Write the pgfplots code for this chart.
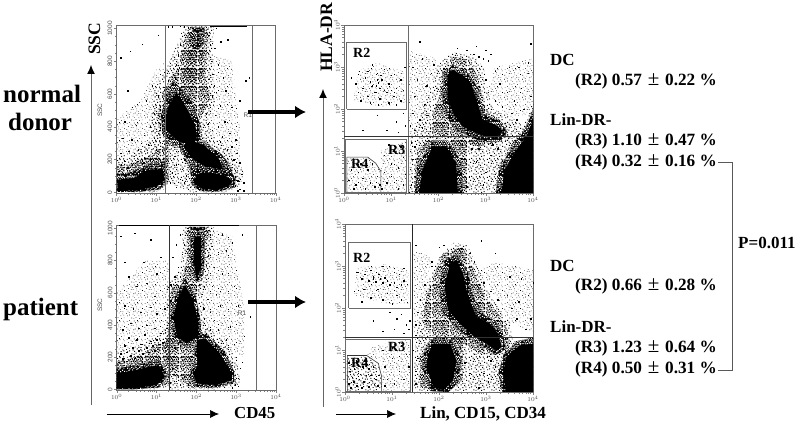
\documentclass[border=0pt]{standalone}
\usepackage{pgfplots}
\pgfplotsset{compat=1.18}
\usepackage{fontspec}
\setmainfont{Liberation Serif}
\newfontfamily\tickfont{Liberation Sans}
\usetikzlibrary{arrows.meta,patterns}
\definecolor{frame}{gray}{0.42}
\definecolor{tick}{gray}{0.30}
\def\logminor{0.30,0.48,0.60,0.70,0.78,0.85,0.90,0.95,1.30,1.48,1.60,1.70,1.78,1.85,1.90,1.95,2.30,2.48,2.60,2.70,2.78,2.85,2.90,2.95,3.30,3.48,3.60,3.70,3.78,3.85,3.90,3.95}
% stipple tiles
\def\dd#1 #2;{\pgfpathrectangle{\pgfqpoint{#1pt}{#2pt}}{\pgfqpoint{\sz}{\sz}}}
\def\listA{\dd 1.3 2.9;\dd 5.6 0.7;\dd 8.4 3.2;\dd 13.8 0.2;\dd 16.1 3.7;\dd 3.1 6.6;\dd 6.9 4.8;\dd 11.2 5.9;\dd 15.2 7.3;\dd 0.4 9.8;\dd 4.7 8.9;\dd 9.3 8.1;\dd 12.6 9.7;\dd 16.9 10.6;\dd 2.2 12.8;\dd 7.1 11.7;\dd 10.8 12.4;\dd 14.4 12.1;\dd 0.9 15.9;\dd 4.9 15.2;\dd 8.3 16.4;\dd 12.2 15.6;\dd 15.7 16.2;\dd 3.3 3.9;\dd 10.1 1.4;\dd 6.2 13.9;\dd 13.1 3.1;\dd 1.8 7.9;\dd 16.6 14.4;\dd 11.6 16.9;\dd 7.7 7.2;\dd 14.9 5.1;\dd 5.1 11.6;\dd 9.6 14.6;\dd 3.4 16.9;\dd 0.2 5.6;\dd 12.9 7.6;\dd 16.4 0.9;\dd 7.9 0.1;\dd 11.0 10.2;\pgfusepath{fill}}
\def\listB{\dd 0.3 0.8;\dd 2.6 1.9;\dd 4.4 0.2;\dd 6.3 2.4;\dd 8.9 1.1;\dd 10.7 2.8;\dd 12.5 0.6;\dd 14.6 2.2;\dd 16.7 1.0;\dd 1.1 4.2;\dd 3.5 3.6;\dd 5.4 5.1;\dd 7.6 4.3;\dd 9.8 5.0;\dd 11.9 3.9;\dd 13.7 5.3;\dd 15.9 4.4;\dd 0.2 6.7;\dd 2.4 6.1;\dd 4.1 7.5;\dd 6.6 7.0;\dd 8.7 6.9;\dd 10.5 7.6;\dd 12.8 7.2;\dd 15.0 6.8;\dd 16.6 7.1;\dd 1.4 8.9;\dd 3.2 9.6;\dd 5.7 9.0;\dd 7.9 9.7;\dd 9.6 8.9;\dd 11.8 9.4;\dd 13.9 9.1;\dd 16.1 9.8;\dd 0.5 11.2;\dd 2.7 11.8;\dd 4.8 11.1;\dd 6.9 11.9;\dd 9.0 11.3;\dd 10.9 11.7;\dd 13.1 11.4;\dd 15.2 11.9;\dd 16.7 11.2;\dd 1.6 13.7;\dd 3.9 13.3;\dd 6.0 13.9;\dd 8.1 13.2;\dd 10.2 13.8;\dd 12.2 13.3;\dd 14.4 13.9;\dd 16.5 13.4;\dd 0.3 15.4;\dd 2.5 15.9;\dd 4.7 15.3;\dd 7.0 15.8;\dd 9.1 15.2;\dd 11.3 15.9;\dd 13.4 15.5;\dd 15.6 15.8;\dd 16.7 15.1;\dd 1.3 16.7;\dd 3.6 16.6;\dd 5.9 16.8;\dd 8.3 16.7;\dd 10.4 16.6;\dd 12.5 16.8;\dd 14.7 16.7;\pgfusepath{fill}}
\def\sz{1.0pt}\pgfdeclarepatternformonly{spA}{\pgfqpoint{0pt}{0pt}}{\pgfqpoint{18pt}{18pt}}{\pgfqpoint{18pt}{18pt}}{\listA}
\def\sz{0.65pt}\pgfdeclarepatternformonly{spF}{\pgfqpoint{0pt}{0pt}}{\pgfqpoint{18pt}{18pt}}{\pgfqpoint{18pt}{18pt}}{\listA}
\def\sz{1.2pt}\pgfdeclarepatternformonly{spB}{\pgfqpoint{0pt}{0pt}}{\pgfqpoint{18pt}{18pt}}{\pgfqpoint{18pt}{18pt}}{\listB}
\pgfplotsset{
 flow/.style={scale only axis,clip=true,axis line style={frame,line width=0.9pt},
  xmin=0,xmax=4,xtick={0,1,2,3,4},xticklabels={$10^0$,$10^1$,$10^2$,$10^3$,$10^4$},
  minor xtick=\logminor,
  tick pos=lower,tick align=outside,major tick length=3pt,minor tick length=1.6pt,
  tick style={tick,line width=0.4pt},
  x tick label style={font=\tickfont\fontsize{6.5}{7}\selectfont,text=tick,inner sep=1pt},
  y tick label style={font=\tickfont\fontsize{6.5}{7}\selectfont,text=tick,rotate=90,anchor=south,inner sep=1pt}},
 ssc/.style={flow,ymin=-4,ymax=1021,ytick={0,200,400,600,800,1000},minor y tick num=3,
  /pgf/number format/assume math mode=true,/pgf/number format/1000 sep={}},
 hla/.style={flow,ymin=0,ymax=4,ytick={0,1,2,3,4},yticklabels={$10^0$,$10^1$,$10^2$,$10^3$,$10^4$},minor ytick=\logminor},
 dots/.style={only marks,mark=square*,mark size=0.26pt,mark options={black,draw=none,fill=black}},
 vs/.style={draw=none,pattern=spF,pattern color=black},
 sp/.style={draw=none,pattern=spA,pattern color=black},
 md/.style={draw=none,pattern=spB,pattern color=black},
 hv/.style={draw=none,preaction={fill=black},pattern=spB,pattern color=white},
 bk/.style={draw=none,fill=black},
 gate/.style={draw=frame,line width=0.9pt,no marks},
}
\newcommand{\ar}[2]{\addplot[#1] coordinates {#2} -- cycle;}
\newcommand{\lab}[3]{\node[anchor=base west,inner sep=0pt,font=\bfseries\fontsize{17}{18}\selectfont] at (#1pt,#2pt) {#3};}
\newcommand{\rlab}[3]{\node[anchor=base west,inner sep=0pt,font=\bfseries\fontsize{14}{15}\selectfont] at (#1pt,#2pt) {#3};}
\newcommand{\stat}[5]{\node[anchor=base west,inner sep=0pt,font=\fontsize{17.2}{18}\selectfont] at (#1pt,#2pt) {\textbf{#3 #4}\hspace{1.5pt} {\fontsize{21}{18}\selectfont ±}\hspace{1.5pt} \textbf{#5 \%}};}
\begin{document}
\begin{tikzpicture}[x=1pt,y=1pt]
\path[use as bounding box] (0,0) rectangle (800,427);

% ---------- normal donor, SSC / CD45
\begin{axis}[ssc,at={(116.5pt,234pt)},anchor=south west,width=159.2pt,height=168pt]
\ar{vs}{(0,200)(0,450)(0.6,560)(1.0,750)(1.24,800)(1.24,200)}
\ar{vs}{(2.3,300)(2.35,850)(2.9,800)(3.1,400)(3.1,150)}
\ar{sp}{(1.7,1018)(2.45,1018)(2.42,850)(2.4,700)(2.5,560)(2.3,450)(2.35,360)(2.85,250)(3.2,130)(3.1,30)(2.7,0)(1.9,0)(1.5,40)(1.3,60)(1.1,250)(0.85,380)(0.95,620)(1.3,780)(1.55,920)}
\ar{sp}{(0,220)(0.4,240)(0.9,320)(1.3,420)(1.3,30)(1,0)(0,0)}
\ar{md}{(1.85,1011)(2.31,1011)(2.27,849)(2.23,706)(2.35,564)(2.10,443)(2.18,321)(2.69,219)(3.06,118)(2.94,47)(2.52,6)(2.02,16)(1.81,138)(1.60,260)(1.22,300)(1.01,443)(1.14,605)(1.51,747)(1.68,909)}
\ar{md}{(0.01,158)(0.43,179)(0.93,240)(1.31,300)(1.31,60)(1.01,6)(0.01,6)}
\ar{md}{(1.88,1000)(2.22,1000)(2.17,850)(2.15,720)(2.05,640)(1.6,640)(1.7,740)(1.8,880)}
\ar{hv}{(1.9,1005)(2.22,1005)(2.18,900)(2.05,870)(1.9,880)}
\ar{hv}{(1.42,680)(1.85,580)(2.08,430)(2.1,330)(2.3,290)(2.65,230)(2.85,140)(3.0,80)(2.95,30)(2.55,4)(2.1,8)(1.88,50)(1.85,170)(1.6,270)(1.4,300)(1.15,370)(1.12,470)(1.22,560)}
\ar{hv}{(0,110)(0.4,125)(0.8,175)(1.2,190)(1.3,90)(1.1,20)(0.6,4)(0,2)}
\ar{bk}{(1.50,610)(1.75,520)(1.98,410)(2.02,340)(1.95,290)(1.55,310)(1.25,380)(1.2,430)(1.3,520)}
\ar{bk}{(1.81,321)(2.18,290)(2.56,209)(2.69,138)(2.23,158)(1.93,199)(1.68,280)}
\ar{bk}{(1.93,77)(2.10,118)(2.44,118)(2.77,97)(2.92,67)(2.81,37)(2.52,16)(2.18,20)(1.97,47)}
\ar{bk}{(0.01,77)(0.43,87)(0.80,138)(1.14,142)(1.22,77)(1.01,37)(0.59,16)(0.04,6)}
\addplot[dots] coordinates {(0.1,820)(0.35,860)(0.28,620)(0.4,520)(0.65,905)(0.9,650)(0.75,560)(0.2,430)(0.5,410)(0.15,330)(0.38,320)(0.62,300)(0.85,400)(0.95,480)(1.05,590)(1.1,720)(1.0,520)(1.12,470)(1.08,380)(0.7,350)(0.55,260)(0.3,250)(0.1,240)(0.8,290)(0.95,330)(0.45,220)(0.2,190)(0.7,210)(1.0,260)(1.15,300)(0.05,130)(0.12,170)(0.28,150)(0.4,170)(0.52,190)(0.68,180)(0.85,200)
(1.2,640)(1.3,680)(1.42,720)(1.5,780)(1.55,840)(1.6,900)(1.7,960)(1.25,600)(1.35,640)(1.48,700)(1.58,760)(1.65,810)(1.72,880)(1.8,1000)(1.78,760)(2.32,960)(2.35,900)(2.3,850)(2.38,800)(2.42,720)(2.45,650)(2.5,610)(2.32,690)(2.28,640)(2.4,590)(2.35,520)(2.25,480)(2.48,470)(2.6,530)(2.72,430)(2.55,400)(2.4,380)(2.65,340)(2.85,360)(2.9,280)(3.02,240)(3.1,180)(2.95,200)(3.0,320)(3.15,110)(3.2,60)(2.98,40)(3.05,70)(2.78,260)(2.6,310)(2.3,420)(2.2,590)(2.47,880)(2.55,780)(2.68,700)(2.75,620)(2.9,520)(3.1,560)(3.25,680)(3.33,700)(2.62,920)(2.5,1000)(2.8,930)(1.05,960)(1.5,30)(1.6,80)(1.4,120)(1.7,60)(1.5,170)(1.65,140)(1.45,220)(1.75,100)(1.85,30)(1.35,60)(1.55,250)(1.72,200)(3.1,20)(3.2,10)(3.05,10)(2.4,6)(1.3,1010)(1.4,1012)(1.6,1014)(1.7,1012)};
\addplot[draw=black,line width=1.5pt,no marks] coordinates {(2.35,1015)(3.27,1015)};
\addplot[gate] coordinates {(1.24,-4)(1.24,1021)};
\addplot[gate] coordinates {(3.41,-4)(3.41,1021)};
\addplot[gate] coordinates {(1.24,1016)(3.41,1016)};
\node[font=\tickfont\fontsize{6.5}{7}\selectfont,text=tick] at (axis cs:3.3,470) {R1};
\end{axis}
\node[rotate=90,font=\tickfont\fontsize{6.5}{7}\selectfont,text=tick] at (100,317) {SSC};

% ---------- normal donor, HLA-DR / Lin
\begin{axis}[hla,at={(344pt,234pt)},anchor=south west,width=189pt,height=168pt]
\ar{vs}{(0.2,2.2)(0.3,2.9)(0.7,3.1)(1.25,2.9)(1.3,2.15)(0.8,2.05)}
\ar{vs}{(0.05,0.03)(0.05,0.85)(0.5,0.85)(0.78,0.55)(0.78,1.0)(1.33,1.25)(1.33,0.03)}
\ar{vs}{(1.36,1.35)(1.36,3.4)(1.95,3.2)(1.8,2.4)(1.5,1.5)}
\ar{vs}{(3.0,2.4)(3.2,3.0)(4,3.2)(4,1.9)(3.5,1.8)}
\ar{sp}{(1.4,1.3)(1.6,1.8)(1.8,2.4)(1.95,3.0)(2.25,3.35)(2.7,3.3)(2.95,3.0)(3.05,2.4)(3.15,2.0)(3.55,1.8)(3.8,1.6)(4,2.2)(4,0)(1.38,0)}
\ar{md}{(2.02,2.30)(2.09,2.93)(2.30,3.25)(2.65,3.17)(2.83,2.77)(2.94,2.22)(3.08,1.90)(3.43,1.66)(3.50,1.27)(2.87,1.11)(2.30,1.27)(1.81,1.43)(1.88,1.90)}
\ar{md}{(1.45,0)(1.55,1.0)(1.85,1.35)(2.6,1.2)(2.6,0)}
\ar{md}{(3.2,0)(3.3,0.7)(3.6,1.25)(3.85,1.6)(4,2.0)(4,0)}
\ar{hv}{(2.1,2.5)(2.12,2.85)(2.3,3.05)(2.6,2.88)(2.78,2.6)(2.88,2.2)(3.0,1.85)(3.3,1.72)(3.45,1.45)(3.3,1.22)(2.85,1.25)(2.4,1.48)(2.2,1.75)(2.08,2.2)}
\ar{hv}{(1.85,1.25)(2.2,1.25)(2.48,0.75)(2.52,0)(1.5,0)(1.55,0.6)}
\ar{hv}{(3.22,0)(3.28,0.55)(3.55,1.1)(3.8,1.45)(4,1.95)(4,0)}
\ar{bk}{(2.19,2.81)(2.30,2.93)(2.51,2.81)(2.69,2.61)(2.80,2.22)(2.94,1.74)(3.22,1.62)(3.36,1.47)(3.22,1.31)(2.87,1.39)(2.51,1.58)(2.34,1.86)(2.19,2.22)(2.19,2.53)}
\ar{bk}{(1.88,1.11)(2.16,1.11)(2.37,0.71)(2.41,0.0)(1.59,0.0)(1.66,0.55)}
\ar{bk}{(3.33,0)(3.40,0.55)(3.65,1.03)(3.86,1.35)(4,1.74)(4,0)}
\addplot[dots] coordinates {(0.32,2.9)(0.45,2.75)(0.6,3.05)(0.7,2.85)(0.85,2.95)(1.0,2.8)(1.2,2.7)(0.25,2.6)(0.4,2.5)(0.55,2.65)(0.68,2.55)(0.8,2.7)(0.95,2.6)(1.1,2.5)(1.25,2.45)(0.3,2.4)(0.5,2.3)(0.65,2.4)(0.75,2.25)(0.9,2.4)(1.05,2.3)(1.2,2.2)(0.35,2.2)(0.55,2.15)(0.72,2.1)(0.95,2.15)(1.1,2.1)(0.6,2.55)(0.7,2.7)(0.72,2.62)(0.75,2.5)(0.78,2.8)(0.85,2.45)(1.0,2.45)(0.15,2.75)(1.28,3.0)(0.5,2.9)
(0.7,1.85)(1.1,1.7)(1.25,1.9)(1.3,1.6)(0.4,1.5)(0.9,1.5)(1.15,1.45)
(0.1,0.3)(0.25,0.2)(0.4,0.35)(0.55,0.25)(0.7,0.4)(0.3,0.5)(0.5,0.55)(0.15,0.55)(0.65,0.15)(0.2,0.1)(0.45,0.1)(0.35,0.7)(0.6,0.7)(0.75,0.2)
(0.85,0.5)(1.0,0.7)(1.15,0.6)(1.25,0.85)(0.9,0.25)(1.1,0.3)(1.25,0.2)(1.0,0.4)(0.85,0.9)(1.2,1.1)(1.05,1.0)(0.95,1.15)(1.3,0.45)(0.8,0.1)(1.15,0.1)
(1.45,3.0)(1.55,2.7)(1.65,3.2)(1.75,2.55)(1.85,2.85)(1.5,2.3)(1.7,2.1)(1.95,2.5)(1.9,3.05)(1.45,1.9)(1.6,1.75)(1.75,1.85)(1.5,1.5)(1.65,1.55)(1.4,1.6)(1.6,3.6)(2.4,3.45)(2.6,3.4)(2.8,3.5)(3.0,3.4)(3.1,3.3)(3.05,3.15)(2.95,3.2)(2.85,3.25)(2.75,3.3)(3.2,2.9)(3.3,2.6)(3.45,2.4)(3.6,2.2)(3.75,2.5)(3.9,2.85)(3.95,2.3)(3.8,2.0)(3.55,1.9)(3.65,1.75)(3.35,2.05)(3.2,2.2)(3.05,2.4)(3.0,2.7)(3.9,3.1)(3.95,3.55)(3.7,3.0)(3.5,3.0)
(1.42,1.2)(1.45,0.8)(1.5,0.4)(1.42,0.2)(1.5,1.1)(1.55,0.6)(2.5,1.15)(2.55,0.8)(2.65,0.4)(2.7,1.05)(2.8,0.75)(2.95,0.2)(3.0,0.5)(3.1,0.9)(3.2,0.45)(2.6,0.15)(2.85,1.05)(3.15,1.15)(3.25,1.05)};
\addplot[gate] coordinates {(1.36,0)(1.36,4)};
\addplot[draw=black!80,line width=0.7pt,no marks] coordinates {(0,1.35)(4,1.35)};
\addplot[gate] coordinates {(0.06,2.0)(1.33,2.0)(1.33,3.58)(0.06,3.58)(0.06,2.0)};
\addplot[gate] coordinates {(0.03,0.02)(1.33,0.02)(1.33,1.28)(0.03,1.28)(0.03,0.02)};
\addplot[draw=black!80,line width=0.6pt,no marks] coordinates {(0.06,0.02)(0.06,0.855)(0.5,0.855)(0.67,0.71)(0.78,0.515)(0.78,0.02)};
\end{axis}
\rlab{353}{369}{R2}
\rlab{388}{272}{R3}
\rlab{351}{258}{R4}

% ---------- patient, SSC / CD45
\begin{axis}[ssc,at={(116.7pt,37pt)},anchor=south west,width=159.3pt,height=165pt]
\ar{vs}{(0,240)(0,600)(0.7,800)(1.32,800)(1.32,240)}
\ar{vs}{(2.2,320)(2.3,1000)(2.9,950)(3.2,500)(3.2,200)}
\ar{sp}{(1.65,1018)(2.45,1018)(2.38,880)(2.3,700)(2.2,580)(2.2,420)(2.35,370)(2.75,290)(3.05,170)(3.1,30)(2.6,0)(1.34,0)(1.3,80)(1.15,300)(1.25,420)(1.25,640)(1.55,730)(1.65,850)}
\ar{sp}{(0,240)(0.5,260)(1.0,330)(1.34,400)(1.34,20)(1.0,0)(0,0)}
\ar{md}{(1.76,1010)(2.34,1010)(2.25,907)(2.18,700)(2.05,600)(2.05,400)(2.22,330)(2.59,250)(2.95,150)(3.0,40)(2.51,6)(1.91,6)(1.6,60)(1.34,100)(1.21,265)(1.30,390)(1.38,627)(1.65,690)(1.76,800)}
\ar{md}{(0,170)(0.5,203)(1.0,270)(1.34,300)(1.34,30)(1.0,6)(0,6)}
\ar{hv}{(1.85,1010)(2.22,1010)(2.2,850)(2.18,720)(2.0,660)(1.88,760)(1.85,900)}
\ar{hv}{(1.72,690)(2.0,560)(2.12,410)(2.1,310)(1.76,265)(1.45,300)(1.36,451)(1.48,590)}
\ar{hv}{(1.98,340)(2.25,345)(2.7,240)(2.95,110)(2.95,45)(2.5,12)(1.95,15)(1.85,100)(1.95,170)(1.95,240)}
\ar{hv}{(0,130)(0.5,150)(1.05,185)(1.3,90)(1.05,12)(0.42,0)(0,0)}
\ar{bk}{(1.95,950)(2.12,950)(2.12,750)(2.0,690)(1.93,800)}
\ar{bk}{(1.72,648)(1.92,555)(2.05,410)(2.05,327)(1.76,286)(1.51,327)(1.42,451)(1.55,575)}
\ar{bk}{(2.01,306)(2.22,317)(2.59,224)(2.89,99)(2.89,58)(2.51,27)(2.01,37)(1.91,99)(2.05,150)(2.01,220)}
\ar{bk}{(0,99)(0.5,120)(1.05,151)(1.21,79)(1.0,27)(0.42,6)(0,6)}
\addplot[dots] coordinates {(0.1,950)(0.2,790)(0.45,970)(0.68,790)(0.85,930)(1.0,720)(1.1,820)(0.3,700)(0.5,640)(0.75,660)(0.95,580)(0.2,520)(0.42,500)(0.6,480)(0.85,510)(1.0,470)(1.12,430)(1.2,500)(1.25,380)(1.1,350)(0.95,380)(0.75,400)(0.55,380)(0.35,410)(0.15,370)(0.3,320)(0.5,310)(0.7,340)(0.85,300)(1.0,310)(1.15,290)(0.2,270)(0.4,260)(0.6,280)(0.75,260)(0.9,270)(1.05,280)(0.1,220)(0.25,230)(0.35,210)(0.55,240)(0.65,220)(0.8,230)(0.95,240)(0.15,190)(0.45,195)(0.05,170)(0.25,175)
(1.4,820)(1.5,900)(1.6,960)(1.65,840)(1.55,760)(1.45,700)(1.72,740)(1.35,650)(1.78,1000)(1.7,900)(1.6,700)
(2.35,960)(2.4,890)(2.3,830)(2.45,760)(2.25,770)(2.55,840)(2.65,720)(2.3,690)(2.2,640)(2.4,640)(2.5,590)(2.28,560)(2.15,590)(2.6,520)(2.35,480)(2.18,500)(2.2,440)(2.45,430)(2.7,460)(2.85,390)(2.55,370)(2.35,370)(2.75,310)(2.95,280)(2.8,250)(3.0,200)(3.1,130)(3.05,70)(2.98,30)(3.15,170)(3.2,330)(3.35,450)(2.95,640)(3.05,520)(2.75,860)(2.9,910)(3.15,960)(2.65,960)(2.6,610)
(1.34,40)(1.4,130)(1.5,50)(1.6,30)(1.7,80)(1.45,260)(1.6,270)(1.75,250)(1.85,90)(1.8,30)(3.05,20)(2.9,10)(1.4,330)(1.38,450)(1.35,550)};
\addplot[draw=black,line width=1pt,no marks] coordinates {(0.05,1015)(3.07,1015)};
\addplot[gate,black!80] coordinates {(1.32,-4)(1.32,1021)};
\addplot[gate,line width=1.2pt] coordinates {(3.51,-4)(3.51,1021)};
\node[font=\tickfont\fontsize{6.5}{7}\selectfont,text=tick] at (axis cs:3.15,475) {R1};
\end{axis}
\node[rotate=90,font=\tickfont\fontsize{6.5}{7}\selectfont,text=tick] at (100,122) {SSC};

% ---------- patient, HLA-DR / Lin
\begin{axis}[hla,at={(345pt,35pt)},anchor=south west,width=188pt,height=168pt]
\ar{vs}{(0.2,2.3)(0.25,2.95)(0.8,3.05)(1.35,2.9)(1.35,2.1)(0.9,2.1)}
\ar{vs}{(0.78,0.03)(0.78,0.75)(0.46,0.87)(0.6,1.1)(1.39,1.25)(1.39,0.03)}
\ar{sp}{(0.03,0.03)(0.03,0.8)(0.45,0.85)(0.7,0.65)(0.78,0.36)(0.78,0.03)}
\ar{vs}{(1.43,1.31)(1.43,3.4)(1.85,3.2)(1.7,2.4)(1.5,1.5)}
\ar{vs}{(2.85,2.9)(3.2,3.1)(4,2.9)(4,1.4)(3.5,1.7)}
\ar{sp}{(1.5,1.25)(1.6,1.9)(1.75,2.6)(2.0,3.2)(2.3,3.55)(2.6,3.5)(2.85,2.9)(3.15,2.2)(3.5,1.7)(3.6,1.0)(4,1.3)(4,0)(1.45,0)}
\ar{md}{(1.73,2.27)(1.91,2.82)(2.09,3.30)(2.51,3.46)(2.80,2.74)(3.08,2.11)(3.43,1.63)(3.50,0.99)(3.01,0.83)(2.51,1.15)(1.88,1.31)(1.66,1.71)}
\ar{md}{(1.6,0.1)(1.6,0.9)(1.85,1.3)(2.5,1.2)(2.5,0.3)(2.15,0)}
\ar{md}{(3.3,0)(3.35,0.7)(3.6,1.2)(4,1.3)(4,0)}
\ar{hv}{(2.12,3.15)(2.38,3.28)(2.62,2.85)(2.72,2.3)(2.88,1.88)(3.15,1.72)(3.35,1.45)(3.42,1.02)(3.2,0.88)(3.0,1.05)(2.72,1.22)(2.35,1.55)(2.08,1.9)(2.0,2.5)}
\ar{hv}{(1.82,1.25)(2.28,1.25)(2.48,0.78)(2.4,0.2)(2.2,0)(1.82,0.02)(1.64,0.6)(1.68,0.95)}
\ar{hv}{(3.38,0.92)(3.7,1.22)(4,1.25)(4,0)(3.35,0)(3.26,0.44)}
\ar{bk}{(2.23,3.06)(2.37,3.14)(2.51,2.82)(2.62,2.27)(2.80,1.79)(3.08,1.63)(3.26,1.39)(3.33,1.07)(3.22,0.99)(3.01,1.15)(2.76,1.31)(2.44,1.63)(2.19,1.95)(2.12,2.50)}
\ar{bk}{(1.88,1.15)(2.23,1.15)(2.37,0.76)(2.30,0.28)(2.09,0.04)(1.88,0.12)(1.73,0.60)(1.77,0.91)}
\ar{bk}{(3.43,0.83)(3.72,1.11)(4,1.15)(4,0)(3.43,0)(3.36,0.44)}
\addplot[dots] coordinates {(0.25,2.85)(0.42,2.8)(0.6,2.75)(0.75,2.7)(0.9,2.65)(1.05,2.6)(1.2,2.55)(0.35,2.7)(0.5,2.65)(0.65,2.62)(0.8,2.6)(0.95,2.55)(1.1,2.5)(1.25,2.65)(0.55,2.9)(0.8,3.0)(1.05,2.95)(1.15,2.8)(0.7,2.45)(0.9,2.35)(1.1,2.3)(1.2,2.2)(0.4,2.45)(0.2,2.4)(0.55,2.25)(0.8,2.2)(1.0,2.1)(0.35,2.15)(1.25,2.95)(0.6,2.7)(0.85,2.72)(0.72,2.8)
(0.95,1.9)(1.1,1.75)(1.2,1.85)(1.3,1.6)(1.05,1.5)(1.25,1.4)(1.38,1.7)(1.35,1.5)(0.6,1.7)(0.8,1.45)
(0.08,0.2)(0.15,0.35)(0.25,0.15)(0.32,0.42)(0.4,0.25)(0.5,0.12)(0.55,0.4)(0.65,0.3)(0.2,0.55)(0.1,0.5)(0.38,0.6)(0.5,0.55)(0.7,0.15)(0.08,0.7)(0.25,0.72)(0.6,0.6)(0.12,0.1)(0.3,0.3)(0.45,0.4)(0.62,0.18)(0.18,0.25)(0.35,0.1)(0.72,0.4)(0.28,0.45)(0.42,0.75)
(0.85,0.6)(1.0,0.8)(1.15,0.5)(1.3,0.9)(0.9,0.3)(1.05,0.2)(1.25,0.3)(1.0,1.05)(0.8,1.0)(1.2,1.1)(0.85,0.15)(1.35,0.6)(1.15,0.85)
(1.5,1.6)(1.55,1.9)(1.6,2.2)(1.7,2.55)(1.85,3.0)(1.5,1.35)(1.6,1.45)(1.45,1.0)(1.5,0.5)(1.55,0.8)(1.5,0.2)(1.85,3.1)(2.0,3.45)(2.1,3.5)(2.65,3.3)(2.75,3.1)(2.9,2.9)(2.95,2.6)(3.1,2.4)(3.25,2.2)(3.2,1.95)(3.45,2.3)(3.55,2.0)(3.7,2.15)(3.9,2.3)(3.75,2.7)(3.5,2.75)(3.65,1.75)(3.85,1.5)(3.95,1.75)(4.0,2.6)(3.2,3.3)(1.5,3.5)(2.9,3.6)
(2.45,1.05)(2.55,0.7)(2.65,0.45)(2.75,0.9)(2.85,0.1)(2.95,0.45)(3.05,0.25)(3.2,0.6)(3.3,0.15)(3.1,0.75)};
\addplot[gate,black!85] coordinates {(1.43,0)(1.43,4)};
\addplot[draw=black!80,line width=0.7pt,no marks] coordinates {(0,1.31)(4,1.31)};
\addplot[gate] coordinates {(0.08,2.0)(1.39,2.0)(1.39,3.55)(0.08,3.55)(0.08,2.0)};
\addplot[gate] coordinates {(0.02,0.02)(1.39,0.02)(1.39,1.25)(0.02,1.25)(0.02,0.02)};
\addplot[draw=black!80,line width=0.6pt,no marks] coordinates {(0.05,0.02)(0.05,0.87)(0.46,0.87)(0.71,0.68)(0.78,0.36)(0.78,0.02)};
\end{axis}
\rlab{353}{164}{R2}
\rlab{388}{75}{R3}
\rlab{351}{59}{R4}

% ---------- process arrows and axis arrows
\draw[line width=4.5pt,-{Latex[length=11pt,width=13pt]}] (248,315) -- (306,315);
\draw[line width=4.5pt,-{Latex[length=11pt,width=13pt]}] (248,125) -- (306,125);
\draw[black!60,line width=1pt,-{Latex[length=9pt,width=8pt,black]}] (91,22) -- (91,362);
\draw[black!60,line width=1pt,-{Latex[length=9pt,width=8pt,black]}] (323,20) -- (323,338);
\draw[line width=0.7pt,-{Latex[length=9pt,width=8pt]}] (107,13) -- (219,13);
\draw[line width=0.7pt,-{Latex[length=9pt,width=8pt]}] (336,13) -- (396,13);
\draw[black!65,line width=0.9pt] (718,265) -- (732,265) -- (732,57) -- (718,57);

% ---------- texts
\node[anchor=base west,inner sep=0pt,font=\bfseries\fontsize{25}{28}\selectfont] at (3,324) {normal};
\node[anchor=base west,inner sep=0pt,font=\bfseries\fontsize{25}{28}\selectfont] at (8,296) {donor};
\node[anchor=base west,inner sep=0pt,font=\bfseries\fontsize{25}{28}\selectfont] at (3,111) {patient};
\node[rotate=90,anchor=base west,inner sep=0pt,font=\bfseries\fontsize{17.5}{19}\selectfont] at (100,372) {SSC};
\node[rotate=90,anchor=base west,inner sep=0pt,font=\bfseries\fontsize{17.5}{19}\selectfont] at (332,355) {HLA-DR};
\node[anchor=base west,inner sep=0pt,font=\bfseries\fontsize{16.8}{18}\selectfont] at (234,8) {CD45};
\node[anchor=base west,inner sep=0pt,font=\bfseries\fontsize{17}{19}\selectfont] at (420,8) {Lin, CD15, CD34};
\lab{550}{361}{DC}
\stat{575}{341}{(R2)}{0.57}{0.22}
\lab{550}{301}{Lin-DR-}
\stat{575}{281}{(R3)}{1.10}{0.47}
\stat{575}{260}{(R4)}{0.32}{0.16}
\lab{738}{178}{P=0.011}
\lab{550}{155}{DC}
\stat{575}{136}{(R2)}{0.66}{0.28}
\lab{550}{94}{Lin-DR-}
\stat{575}{74}{(R3)}{1.23}{0.64}
\stat{575}{53}{(R4)}{0.50}{0.31}
\end{tikzpicture}
\end{document}
